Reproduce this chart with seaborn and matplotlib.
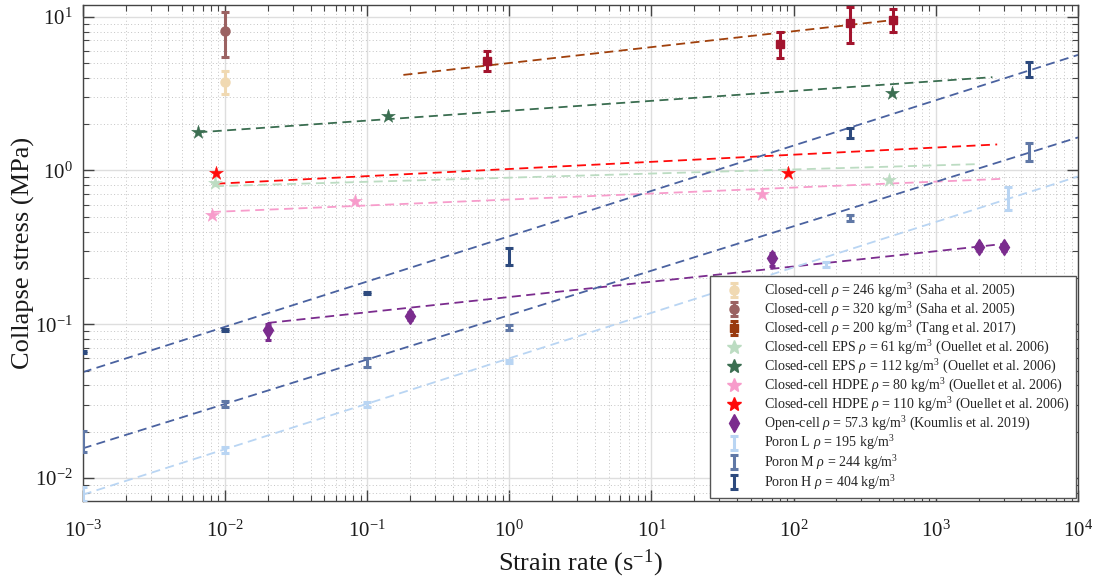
import numpy as np
import matplotlib
matplotlib.use("Agg")
import matplotlib.pyplot as plt
import seaborn as sns
from matplotlib.lines import Line2D
from matplotlib.ticker import LogLocator, NullFormatter, FixedLocator

# ---------------- data ----------------
x_ticks = [1e-3, 1e-2, 1e-1, 1e0, 1e1, 1e2, 1e3, 1e4]
y_ticks = [1e-2, 1e-1, 1e0, 1e1]

saha246_x = [0.01]
saha246_y = [3.78]
saha246_lo = [3.13]
saha246_hi = [4.4]

saha320_x = [0.01]
saha320_y = [8.07]
saha320_lo = [5.5]
saha320_hi = [10.7]

tang_x = [0.7, 80, 250, 500]
tang_y = [5.15, 6.66, 9.14, 9.5]
tang_lo = [4.4, 5.37, 6.7, 7.9]
tang_hi = [6.0, 7.9, 11.5, 11.2]
tang_fit_x = [0.18, 500]
tang_fit_y = [4.18, 9.5]

eps61_x = [0.0085, 470]
eps61_y = [0.83, 0.87]
eps61_fit_x = [0.0085, 2000]
eps61_fit_y = [0.79, 1.10]

eps112_x = [0.0065, 0.14, 490]
eps112_y = [1.77, 2.27, 3.2]
eps112_fit_x = [0.0065, 2500]
eps112_fit_y = [1.77, 4.04]

hdpe80_x = [0.0081, 0.082, 60]
hdpe80_y = [0.515, 0.636, 0.706]
hdpe80_fit_x = [0.0081, 3000]
hdpe80_fit_y = [0.537, 0.883]

hdpe110_x = [0.0087, 91]
hdpe110_y = [0.966, 0.966]
hdpe110_fit_x = [0.0087, 2700]
hdpe110_fit_y = [0.82, 1.476]

koum_x = [0.02, 0.2, 70, 2000, 3000]
koum_y = [0.0914, 0.113, 0.27, 0.316, 0.316]
koum_lo = [0.0796, 0.106, 0.241, 0.300, 0.300]
koum_hi = [0.101, 0.120, 0.292, 0.332, 0.332]
koum_fit_x = [0.02, 3000]
koum_fit_y = [0.102, 0.333]

poronL_x = [0.001, 0.01, 0.1, 1, 170, 3200]
poronL_y = [0.0078, 0.0152, 0.0301, 0.0573, 0.244, 0.662]
poronL_lo = [0.0071, 0.0146, 0.0291, 0.0556, 0.236, 0.55]
poronL_hi = [0.0087, 0.0159, 0.0311, 0.0590, 0.253, 0.78]
poronL_fit_x = [0.001, 10000]
poronL_fit_y = [0.0078, 0.914]

poronM_x = [0.001, 0.01, 0.1, 1, 250, 4500]
poronM_y = [0.0172, 0.0301, 0.0566, 0.0953, 0.491, 1.33]
poronM_lo = [0.0148, 0.0288, 0.0530, 0.0920, 0.470, 1.16]
poronM_hi = [0.0202, 0.0315, 0.0605, 0.0990, 0.515, 1.51]
poronM_fit_x = [0.001, 10000]
poronM_fit_y = [0.0156, 1.64]

poronH_x = [0.001, 0.01, 0.1, 1, 250, 4500]
poronH_y = [0.0662, 0.0914, 0.160, 0.284, 1.75, 4.57]
poronH_lo = [0.0650, 0.0900, 0.158, 0.244, 1.62, 4.08]
poronH_hi = [0.0675, 0.0930, 0.162, 0.313, 1.88, 5.06]
poronH_fit_x = [0.001, 10000]
poronH_fit_y = [0.0488, 5.64]

labels = [
    r"Closed-cell $\rho$ = 246 kg/m$^3$ (Saha et al. 2005)",
    r"Closed-cell $\rho$ = 320 kg/m$^3$ (Saha et al. 2005)",
    r"Closed-cell $\rho$ = 200 kg/m$^3$ (Tang et al. 2017)",
    r"Closed-cell EPS $\rho$ = 61 kg/m$^3$ (Ouellet et al. 2006)",
    r"Closed-cell EPS $\rho$ = 112 kg/m$^3$ (Ouellet et al. 2006)",
    r"Closed-cell HDPE $\rho$ = 80 kg/m$^3$ (Ouellet et al. 2006)",
    r"Closed-cell HDPE $\rho$ = 110 kg/m$^3$ (Ouellet et al. 2006)",
    r"Open-cell $\rho$ = 57.3 kg/m$^3$ (Koumlis et al. 2019)",
    r"Poron L $\rho$ = 195 kg/m$^3$",
    r"Poron M $\rho$ = 244 kg/m$^3$",
    r"Poron H $\rho$ = 404 kg/m$^3$",
]

# ---------------- colours ----------------
c_saha246 = "#f0d9b2"
c_saha320 = "#9b6262"
c_tang = "#a3142e"
c_tang_leg = "#993a0e"
c_tang_fit = "#a0400c"
c_eps61 = "#bcdcc2"
c_eps112 = "#3b6e51"
c_hdpe80 = "#f79ccb"
c_hdpe110 = "#ff0a0a"
c_koum = "#7b2c8e"
c_poronL = "#b9d5f3"
c_poronM = "#6078a6"
c_poronH = "#2d4a7e"
c_poron_fit = "#4a62a0"

# ---------------- style ----------------
sns.set_theme(style="whitegrid")
plt.rcParams['font.family'] = ['Liberation Serif', 'DejaVu Serif']
plt.rcParams['mathtext.fontset'] = 'custom'
plt.rcParams['mathtext.rm'] = 'Liberation Serif'
plt.rcParams['mathtext.it'] = 'Liberation Serif:italic'
plt.rcParams['mathtext.bf'] = 'Liberation Serif:bold'

fig = plt.figure(figsize=(10.97, 5.83), dpi=100)
ax = fig.add_axes([0.0754, 0.1407, 0.9073, 0.8507])
ax.set_facecolor("white")
ax.set_xscale("log")
ax.set_yscale("log")

dash = (0, (5, 3))
lw_fit = 1.3

def fit(xs, ys, color):
    sns.lineplot(x=xs, y=ys, ax=ax, color=color, linestyle=dash, lw=lw_fit,
                 estimator=None, sort=False, legend=False, zorder=2)

fit(tang_fit_x, tang_fit_y, c_tang_fit)
fit(eps112_fit_x, eps112_fit_y, c_eps112)
fit(hdpe110_fit_x, hdpe110_fit_y, c_hdpe110)
fit(eps61_fit_x, eps61_fit_y, c_eps61)
fit(hdpe80_fit_x, hdpe80_fit_y, c_hdpe80)
fit(koum_fit_x, koum_fit_y, c_koum)
fit(poronH_fit_x, poronH_fit_y, c_poron_fit)
fit(poronM_fit_x, poronM_fit_y, c_poron_fit)
fit(poronL_fit_x, poronL_fit_y, c_poronL)


def ebar(xs, ys, lo, hi, color, marker, ms, cap=3.2):
    ys_a = np.array(ys)
    yerr = [ys_a - np.array(lo), np.array(hi) - ys_a]
    return ax.errorbar(xs, ys, yerr=yerr, fmt=marker, color=color, ms=ms,
                       mec=color, mfc=color, elinewidth=2.2, capsize=cap,
                       capthick=2.2, zorder=4)

h_s246 = ebar(saha246_x, saha246_y, saha246_lo, saha246_hi, c_saha246, 'o', 6.5)
h_s320 = ebar(saha320_x, saha320_y, saha320_lo, saha320_hi, c_saha320, 'o', 6.5)
ebar(tang_x, tang_y, tang_lo, tang_hi, c_tang, 's', 5.5)
ebar(koum_x, koum_y, koum_lo, koum_hi, c_koum, 'd', 8, cap=2.5)
h_pL = ebar(poronL_x, poronL_y, poronL_lo, poronL_hi, c_poronL, 'none', 0)
h_pM = ebar(poronM_x, poronM_y, poronM_lo, poronM_hi, c_poronM, 'none', 0)
h_pH = ebar(poronH_x, poronH_y, poronH_lo, poronH_hi, c_poronH, 'none', 0)

for xs, ys, col in [(eps61_x, eps61_y, c_eps61), (eps112_x, eps112_y, c_eps112),
                    (hdpe80_x, hdpe80_y, c_hdpe80), (hdpe110_x, hdpe110_y, c_hdpe110)]:
    sns.scatterplot(x=xs, y=ys, ax=ax, marker='*', s=110, color=col,
                    edgecolor=col, linewidth=0.3, legend=False, zorder=5)

# legend-only handle for Tang (brown in the legend)
h_tang = ax.errorbar([np.nan], [np.nan], yerr=[[np.nan], [np.nan]], fmt='s',
                     color=c_tang_leg, ms=5.5, elinewidth=2.2, capsize=3.2,
                     capthick=2.2)

ax.set_xlim(1e-3, 1e4)
ax.set_ylim(7.1e-3, 11.9)

# ---------------- ticks / grid ----------------
ax.xaxis.set_major_locator(FixedLocator(x_ticks))
ax.xaxis.set_minor_locator(LogLocator(base=10, subs=np.arange(2, 10), numticks=100))
ax.yaxis.set_major_locator(FixedLocator(y_ticks))
ax.yaxis.set_minor_locator(LogLocator(base=10, subs=np.arange(2, 10), numticks=100))
ax.xaxis.set_minor_formatter(NullFormatter())
ax.yaxis.set_minor_formatter(NullFormatter())

ax.set_axisbelow(True)
ax.grid(which='major', color='#dedede', lw=1.0, ls='-')
ax.grid(which='minor', color='#c4c4c4', lw=0.7, ls=(0, (1, 2.5)))

ax.tick_params(which='both', direction='in', top=True, right=True,
               bottom=True, left=True, color='#444444')
ax.tick_params(which='major', length=8, width=1.0, labelsize=15,
               labelcolor='#1a1a1a')
ax.tick_params(axis='x', which='major', pad=14)
ax.tick_params(axis='y', which='major', pad=7)
ax.tick_params(which='minor', length=4, width=0.8)
for sp in ax.spines.values():
    sp.set_color('#444444')
    sp.set_linewidth(1.0)

ax.set_xlabel(r"Strain rate (s$^{-1}$)", fontsize=19, color='#1a1a1a', labelpad=4)
ax.set_ylabel("Collapse stress (MPa)", fontsize=19, color='#1a1a1a', labelpad=0)

# ---------------- legend ----------------
h_eps61 = Line2D([], [], ls='none', marker='*', ms=10, color=c_eps61)
h_eps112 = Line2D([], [], ls='none', marker='*', ms=10, color=c_eps112)
h_hdpe80 = Line2D([], [], ls='none', marker='*', ms=10, color=c_hdpe80)
h_hdpe110 = Line2D([], [], ls='none', marker='*', ms=10, color=c_hdpe110)
h_koum = Line2D([], [], ls='none', marker='d', ms=9, color=c_koum)

handles = [h_s246, h_s320, h_tang, h_eps61, h_eps112, h_hdpe80, h_hdpe110,
           h_koum, h_pL, h_pM, h_pH]
leg = ax.legend(handles, labels, loc='lower right', bbox_to_anchor=(0.998, 0.006),
                borderaxespad=0, fontsize=10.1, frameon=True, fancybox=False,
                edgecolor='#555555', framealpha=1, labelspacing=0.05,
                handlelength=2.4, handletextpad=1.0, borderpad=0.45)
leg.get_frame().set_linewidth(1.0)

fig.savefig("out.png", dpi=100, facecolor="white")
